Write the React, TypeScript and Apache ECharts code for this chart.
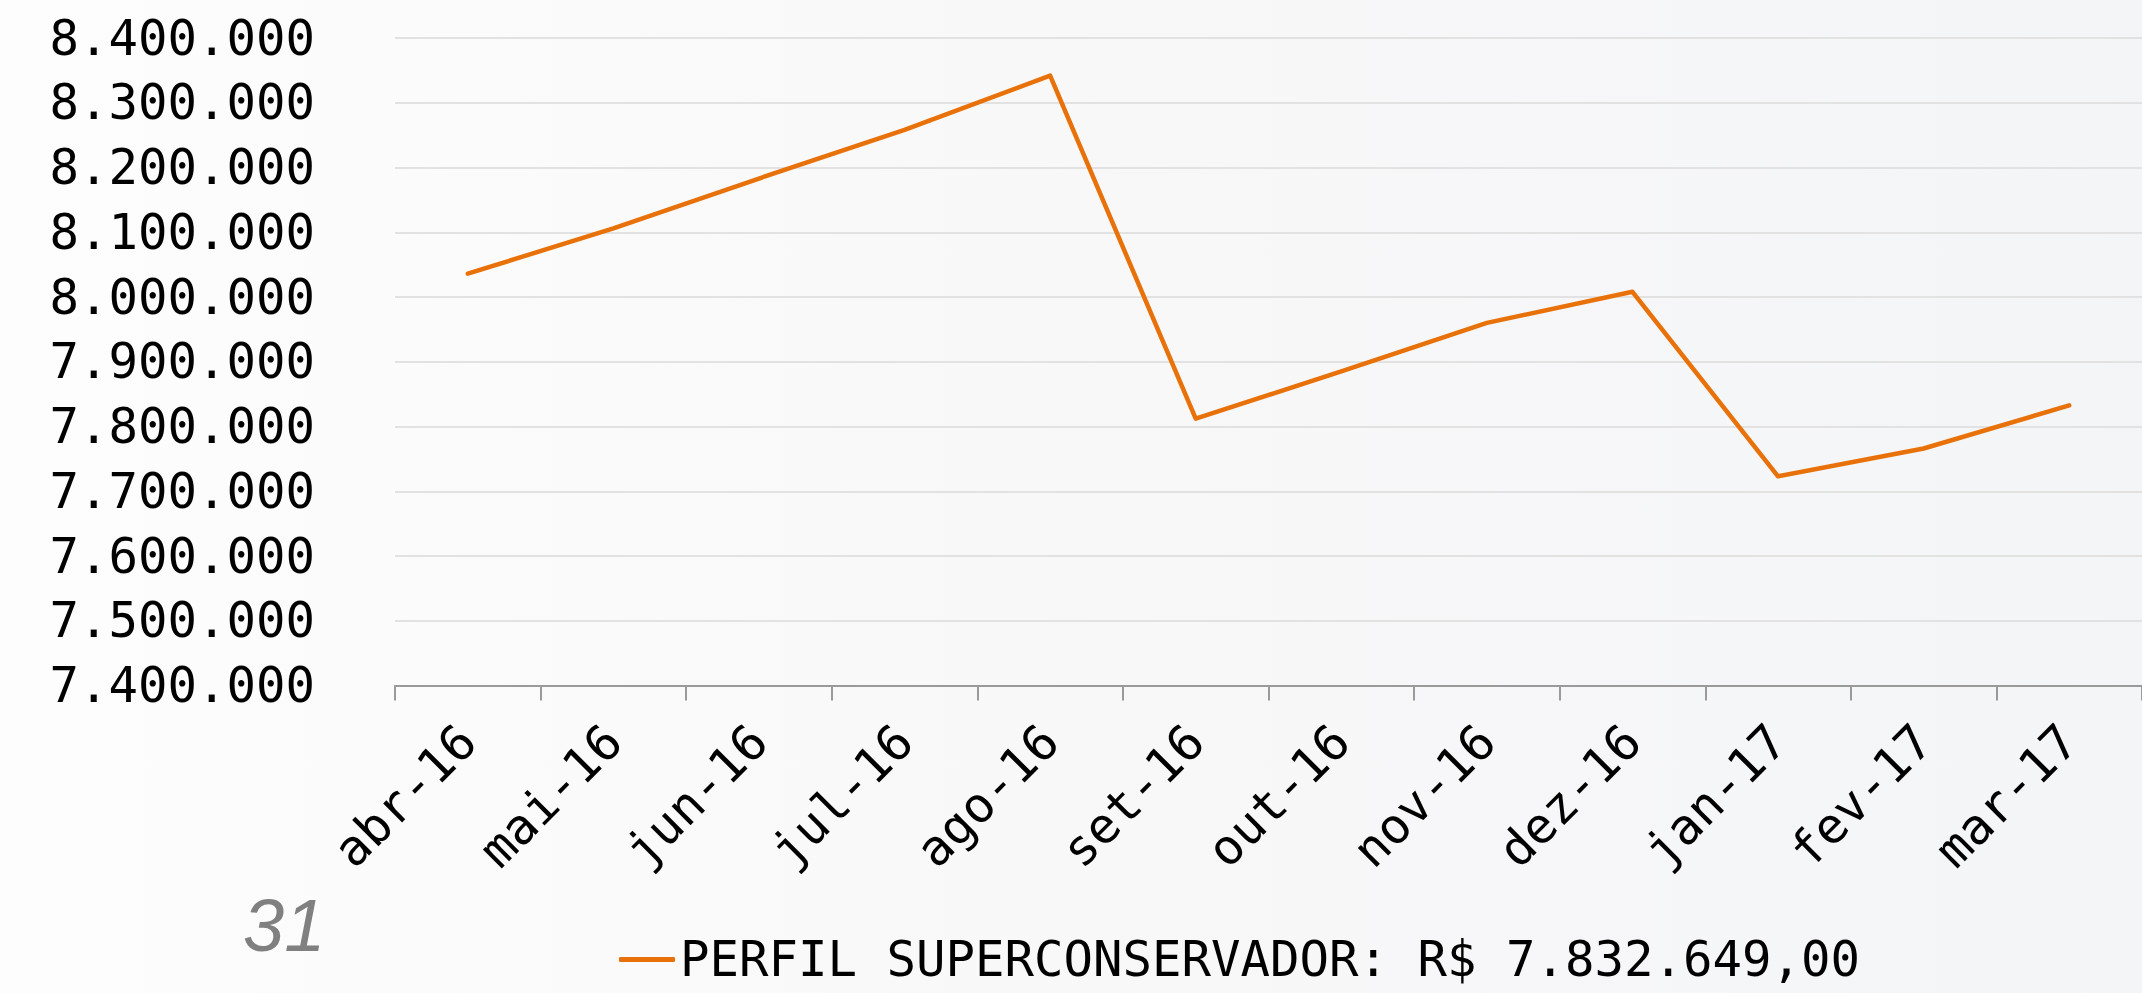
import React, { useEffect, useRef } from "react";
import * as echarts from "echarts";

const categories = [
  "abr-16", "mai-16", "jun-16", "jul-16", "ago-16", "set-16",
  "out-16", "nov-16", "dez-16", "jan-17", "fev-17", "mar-17",
];
const values = [
  8036000, 8106000, 8183000, 8258000, 8342000, 7812000,
  7885000, 7960000, 8008000, 7723000, 7766000, 7832649,
];
const seriesName = "PERFIL SUPERCONSERVADOR: R$ 7.832.649,00";
const yMin = 7400000;
const yMax = 8400000;
const yStep = 100000;
const pageNumber = "31";

const MONO = "'DejaVu Sans Mono', 'Liberation Mono', monospace";

function fmt(v: number): string {
  return String(Math.round(v)).replace(/\B(?=(\d{3})+(?!\d))/g, ".");
}

export default function App() {
  const ref = useRef<HTMLDivElement>(null);
  useEffect(() => {
    if (!ref.current) return;
    const chart = echarts.init(ref.current, undefined, { renderer: "svg" });
    chart.setOption({
      animation: false,
      backgroundColor: "transparent",
      grid: { left: 395, top: 38, bottom: 307.5, right: -12, containLabel: false },
      xAxis: {
        type: "category",
        data: categories,
        boundaryGap: true,
        axisLine: { show: true, lineStyle: { color: "#9a9a9a", width: 2 } },
        axisTick: { show: true, length: 15, lineStyle: { color: "#9a9a9a", width: 2 } },
        axisLabel: {
          rotate: 45,
          margin: 48,
          color: "#000",
          fontFamily: MONO,
          fontSize: 49,
          interval: 0,
        },
        splitLine: { show: false },
      },
      yAxis: {
        type: "value",
        min: yMin,
        max: yMax,
        interval: yStep,
        axisLine: { show: false },
        axisTick: { show: false },
        axisLabel: {
          margin: 80,
          color: "#000",
          fontFamily: MONO,
          fontSize: 49,
          formatter: (v: number) => fmt(v),
        },
        splitLine: { show: true, lineStyle: { color: "#e2e2e2", width: 2 } },
      },
      legend: {
        show: true,
        left: 614,
        bottom: 4,
        icon: "roundRect",
        itemWidth: 56,
        itemHeight: 5,
        itemGap: 10,
        textStyle: { color: "#000", fontFamily: MONO, fontSize: 49, padding: [0, 0, 0, 0] },
        data: [seriesName],
      },
      series: [
        {
          name: seriesName,
          type: "line",
          data: values,
          symbol: "none",
          showSymbol: false,
          lineStyle: { color: "#E8710A", width: 4.5, cap: "round", join: "round" },
          itemStyle: { color: "#E8710A" },
        },
      ],
      graphic: [
        {
          type: "text",
          left: 243,
          top: 888,
          style: {
            text: pageNumber,
            font: "italic 74px 'Liberation Sans', Arial, sans-serif",
            fill: "#808080",
          },
        },
      ],
    });
    return () => chart.dispose();
  }, []);
  return (
    <div
      style={{
        position: "fixed",
        left: 0,
        top: 0,
        width: 2142,
        height: 993,
        background: "linear-gradient(90deg, #fdfdfd 0%, #f8f8f9 50%, #f4f5f7 100%)",
      }}
    >
      <div ref={ref} style={{ width: 2142, height: 993 }} />
    </div>
  );
}
